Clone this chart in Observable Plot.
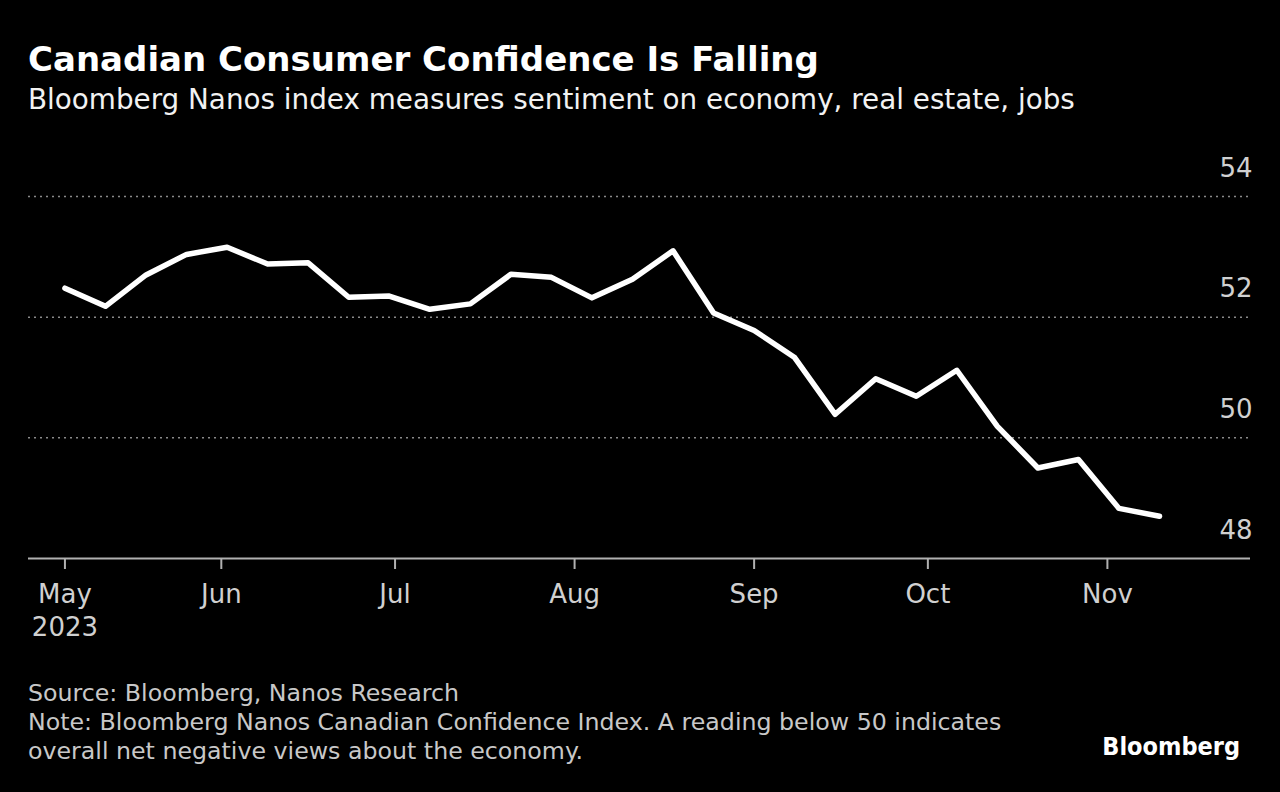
<!DOCTYPE html>
<html>
<head>
<meta charset="utf-8">
<script src="https://cdn.jsdelivr.net/npm/d3@7"></script>
<script src="https://cdn.jsdelivr.net/npm/@observablehq/plot@0.6"></script>
<style>
  html, body { margin: 0; padding: 0; background: #000; }
  body { width: 1280px; height: 792px; position: relative; overflow: hidden;
         font-family: "DejaVu Sans", sans-serif; }
  .t { position: absolute; left: 28px; white-space: nowrap; }
  #title { top: 39px; font-size: 34px; font-weight: bold; color: #fff; }
  #subtitle { top: 83px; font-size: 27.8px; color: #f2f2f2; }
  #chart { position: absolute; left: 0; top: 130px; }
  .note { font-size: 23.7px; color: #c8c8c8; }
  #src { top: 679px; }
  #note1 { top: 708px; }
  #note2 { top: 737px; }
  #logo { position: absolute; right: 40px; top: 732px; font-size: 25px; font-weight: bold; color: #fff;
          font-family: "DejaVu Sans Condensed", "DejaVu Sans", sans-serif; font-stretch: condensed; }
</style>
</head>
<body>
<div class="t" id="title">Canadian Consumer Confidence Is Falling</div>
<div class="t" id="subtitle">Bloomberg Nanos index measures sentiment on economy, real estate, jobs</div>
<div id="chart"></div>
<div class="t note" id="src">Source: Bloomberg, Nanos Research</div>
<div class="t note" id="note1">Note: Bloomberg Nanos Canadian Confidence Index. A reading below 50 indicates</div>
<div class="t note" id="note2">overall net negative views about the economy.</div>
<div id="logo">Bloomberg</div>
<script>
const weeks = ["2023-05-05","2023-05-12","2023-05-19","2023-05-26","2023-06-02","2023-06-09","2023-06-16","2023-06-23","2023-06-30","2023-07-07","2023-07-14","2023-07-21","2023-07-28","2023-08-04","2023-08-11","2023-08-18","2023-08-25","2023-09-01","2023-09-08","2023-09-15","2023-09-22","2023-09-29","2023-10-06","2023-10-13","2023-10-20","2023-10-27","2023-11-03","2023-11-10"];
const confidence = [52.48,52.18,52.70,53.04,53.16,52.88,52.90,52.33,52.35,52.13,52.22,52.71,52.66,52.32,52.63,53.10,52.07,51.78,51.33,50.39,50.98,50.69,51.12,50.19,49.50,49.64,48.83,48.70];
const xTickDates = ["2023-05-05","2023-06-01","2023-07-01","2023-08-01","2023-09-01","2023-10-01","2023-11-01"];
const xTickLabels = ["May\n2023","Jun","Jul","Aug","Sep","Oct","Nov"];
const yTicks = [48, 50, 52, 54];
const yGrid = [50, 52, 54];
const xDomain = ["2023-04-28T17:00:00Z", "2023-11-25T17:00:00Z"];

const data = weeks.map((w, i) => ({date: new Date(w + "T00:00:00Z"), value: confidence[i]}));
const tickDates = xTickDates.map(d => new Date(d + "T00:00:00Z"));
const labelOf = new Map(tickDates.map((d, i) => [+d, xTickLabels[i]]));

const chart = Plot.plot({
  width: 1280,
  height: 520,
  marginTop: 66,
  marginBottom: 92,
  marginLeft: 28,
  marginRight: 30,
  style: {background: "#000", color: "#ccc", fontFamily: '"DejaVu Sans", sans-serif', fontSize: "26px"},
  x: {type: "utc", domain: xDomain.map(d => new Date(d))},
  y: {domain: [48, 54]},
  marks: [
    Plot.ruleY(yGrid, {stroke: "#8a8a8a", strokeWidth: 1.5, strokeDasharray: "2,4"}),
    Plot.ruleY([48], {stroke: "#b0b0b0", strokeWidth: 2}),
    Plot.axisX({ticks: tickDates, tickSize: 11, tickPadding: 9, stroke: "#b0b0b0", strokeWidth: 2, fill: "#d0d0d0",
      tickFormat: d => labelOf.get(+d), lineHeight: 1.3, fontSize: 26, label: null}),
    Plot.axisY({ticks: yTicks, anchor: "right", tickSize: 0, tickPadding: 0, textAnchor: "end", dy: -28, dx: 2,
      tickFormat: d => String(d), fill: "#d0d0d0", fontSize: 26, label: null}),
    Plot.line(data, {x: "date", y: "value", stroke: "#fff", strokeWidth: 5.5, strokeLinejoin: "round", strokeLinecap: "round"})
  ]
});
document.getElementById("chart").appendChild(chart);
</script>
</body>
</html>
